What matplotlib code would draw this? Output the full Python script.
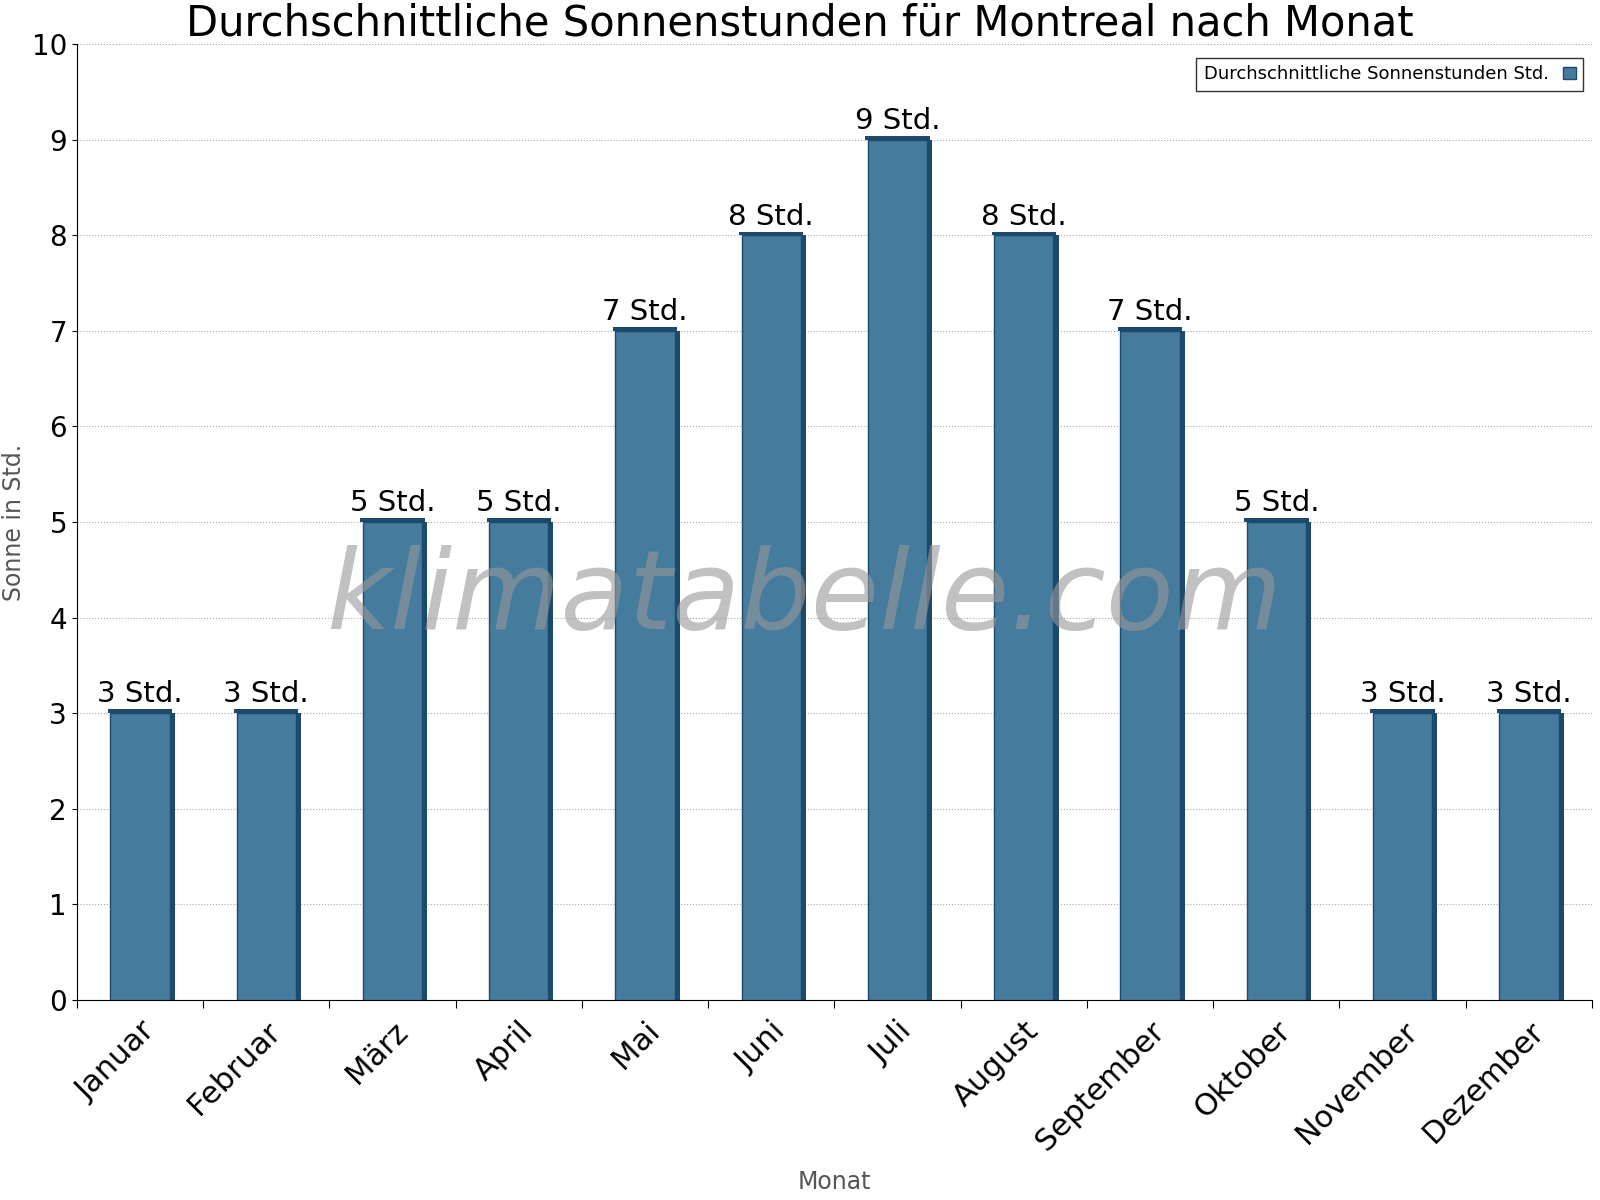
import matplotlib
matplotlib.use("Agg")
import matplotlib.pyplot as plt
from matplotlib.patches import Patch

months = ["Januar","Februar","März","April","Mai","Juni","Juli","August","September","Oktober","November","Dezember"]
sun_hours = [3,3,5,5,7,8,9,8,7,5,3,3]
yticks = list(range(0,11))

fig = plt.figure(figsize=(16,12), dpi=100)
ax = fig.add_axes([0.048,0.167,0.947,0.796])
face = "#457b9d"; dark = "#1d4a6b"
x = list(range(len(months)))
w = 0.47
ax.bar(x, sun_hours, width=w, color=face, edgecolor=dark, linewidth=1, zorder=3)
# 3D side face
ax.bar([i + w/2 + 0.02 for i in x], sun_hours, width=0.04, color=dark, zorder=2)
ax.bar(x, [0.04]*len(x), bottom=sun_hours, width=w+0.04, align='center', color=dark, zorder=2)
for i, v in zip(x, sun_hours):
    ax.text(i, v + 0.05, f"{v} Std.", ha="center", va="bottom", fontsize=21, zorder=4)
ax.set_xlim(-0.5, 11.5)
ax.set_ylim(0, 10)
ax.set_yticks(yticks)
ax.set_xticks([i - 0.5 for i in range(13)], minor=False)
ax.set_xticklabels([])
ax.set_xticks(x, minor=True)
ax.set_xticklabels(months, minor=True, rotation=45, ha="right", rotation_mode="anchor", fontsize=22)
ax.tick_params(axis="x", which="minor", length=0, pad=12)
ax.tick_params(axis="x", which="major", length=6)
ax.tick_params(axis="y", labelsize=20)
for lbl in ax.get_xticklabels(minor=True):
    lbl.set_x(0)
ax.grid(axis="y", linestyle=":", color="#aaaaaa", zorder=0)
for s in ["top","right"]:
    ax.spines[s].set_visible(False)
ax.set_xlabel("Monat", fontsize=17, color="#555555", labelpad=10)
ax.set_ylabel("Sonne in Std.", fontsize=17, color="#555555")
fig.suptitle("Durchschnittliche Sonnenstunden für Montreal nach Monat", fontsize=30, y=0.998)
ax.text(0.48, 0.42, "klimatabelle.com", transform=ax.transAxes, fontsize=80, color="#999999",
        alpha=0.6, style="italic", ha="center", va="center", zorder=5)
leg = ax.legend(handles=[Patch(facecolor=face, edgecolor=dark)], labels=["Durchschnittliche Sonnenstunden Std."],
                loc="upper right", fontsize=13, fancybox=False, edgecolor="black", markerfirst=False,
                handlelength=0.7, bbox_to_anchor=(1.0, 0.995))
fig.savefig("out.png")
